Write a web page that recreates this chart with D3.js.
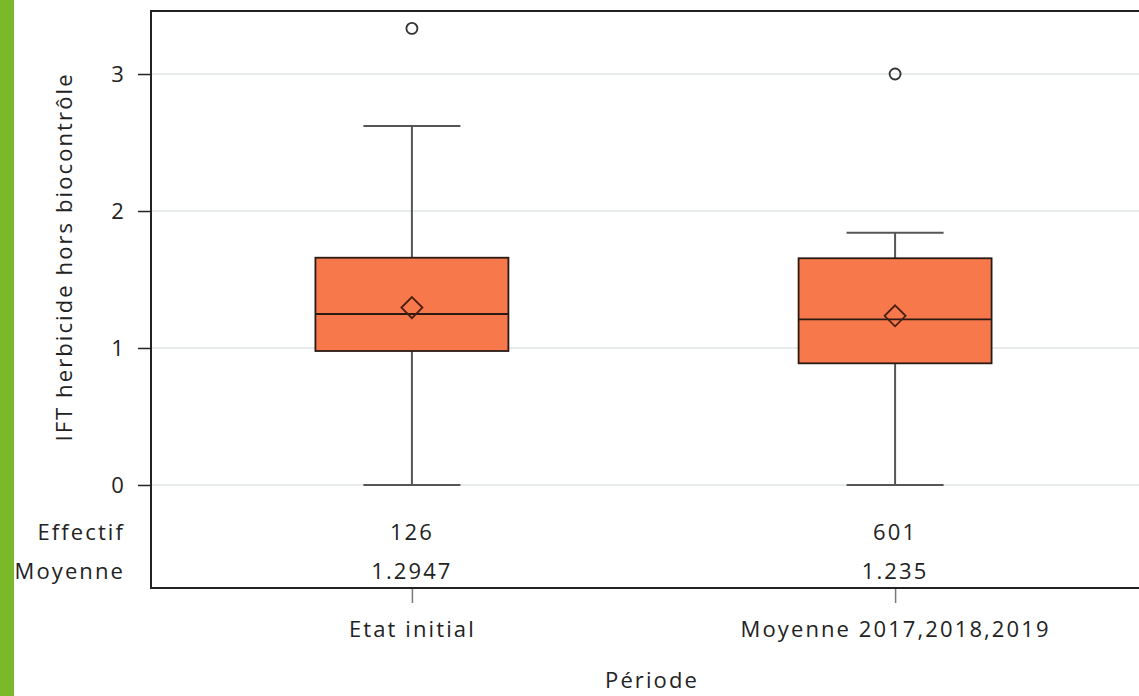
<!DOCTYPE html>
<html><head><meta charset="utf-8">
<script src="https://cdn.jsdelivr.net/npm/d3@7"></script>
<style>
html,body{margin:0;padding:0;background:#fff;}
svg text{font-family:"Open Sans",sans-serif;fill:#222;}
</style></head>
<body>
<svg id="c" width="1139" height="696"></svg>
<script>
const categories = ["Etat initial", "Moyenne 2017,2018,2019"];
const q1 = [0.978, 0.888];
const median = [1.248, 1.209];
const q3 = [1.659, 1.655];
const whiskerLow = [0, 0];
const whiskerHigh = [2.62, 1.842];
const means = [1.2947, 1.235];
const outliers = [[3.333], [3.0]];
const effectif = [126, 601];
const meanLabels = ["1.2947", "1.235"];
const yTicks = [0, 1, 2, 3];
const rowLabels = ["Effectif", "Moyenne"];

const svg = d3.select("#c");
const L = 151, R = 1156, T = 11, B = 588;

svg.append("rect").attr("x",0).attr("y",0).attr("width",14).attr("height",696).attr("fill","#7ab929");

const x = d3.scalePoint().domain(categories).range([L, R]).padding(0.54);
const y = d3.scaleLinear().domain([-0.752, 3.46]).range([B, T]);

// gridlines
svg.append("g").selectAll("line").data(yTicks).join("line")
  .attr("x1", L).attr("x2", R).attr("y1", d=>y(d)).attr("y2", d=>y(d))
  .attr("stroke", "#e2e6e6").attr("stroke-width", 1.5);

const fs = 22, ls = 2.1;

// y axis
const yAxis = svg.append("g").attr("transform", `translate(${L},0)`)
  .call(d3.axisLeft(y).tickValues(yTicks).tickSize(13).tickPadding(12).tickFormat(d3.format("d")));
yAxis.select(".domain").remove();
yAxis.selectAll(".tick line").attr("stroke","#222").attr("stroke-width",1.5);
yAxis.selectAll(".tick text").attr("font-size", fs).attr("font-family","Open Sans").attr("fill","#222").attr("letter-spacing", ls);

// x axis
const xAxis = svg.append("g").attr("transform", `translate(0,${B})`)
  .call(d3.axisBottom(x).tickSize(15).tickPadding(18));
xAxis.select(".domain").remove();
xAxis.selectAll(".tick line").attr("stroke","#777").attr("stroke-width",1.5);
xAxis.selectAll(".tick text").attr("font-size", fs).attr("font-family","Open Sans").attr("fill","#222").attr("letter-spacing", ls);

// boxes
const bw = 193, cw = 97;
const g = svg.append("g");
categories.forEach((c, i) => {
  const cx = x(c);
  g.append("line").attr("x1",cx).attr("x2",cx).attr("y1",y(whiskerLow[i])).attr("y2",y(q1[i])).attr("stroke","#555").attr("stroke-width",2);
  g.append("line").attr("x1",cx).attr("x2",cx).attr("y1",y(q3[i])).attr("y2",y(whiskerHigh[i])).attr("stroke","#555").attr("stroke-width",2);
  [whiskerLow[i], whiskerHigh[i]].forEach(v => {
    g.append("line").attr("x1",cx-cw/2).attr("x2",cx+cw/2).attr("y1",y(v)).attr("y2",y(v)).attr("stroke","#555").attr("stroke-width",2);
  });
  g.append("rect").attr("x",cx-bw/2).attr("width",bw).attr("y",y(q3[i])).attr("height",y(q1[i])-y(q3[i]))
    .attr("fill","#f6784b").attr("stroke","#2a1a14").attr("stroke-width",1.8);
  g.append("line").attr("x1",cx-bw/2).attr("x2",cx+bw/2).attr("y1",y(median[i])).attr("y2",y(median[i])).attr("stroke","#2a1a14").attr("stroke-width",1.8);
  const my = y(means[i]), s = 10.5;
  g.append("path").attr("d",`M${cx},${my-s}L${cx+s},${my}L${cx},${my+s}L${cx-s},${my}Z`)
    .attr("fill","none").attr("stroke","#4a1e0e").attr("stroke-width",1.8);
  outliers[i].forEach(v => {
    g.append("circle").attr("cx",cx).attr("cy",y(v)).attr("r",5.5).attr("fill","none").attr("stroke","#333").attr("stroke-width",1.8);
  });
  g.append("text").attr("x",cx).attr("y",531).attr("text-anchor","middle").attr("dominant-baseline","central")
    .attr("font-size",fs).attr("letter-spacing",ls).text(effectif[i]);
  g.append("text").attr("x",cx).attr("y",570).attr("text-anchor","middle").attr("dominant-baseline","central")
    .attr("font-size",fs).attr("letter-spacing",ls).text(meanLabels[i]);
});

// row labels
rowLabels.forEach((t, i) => {
  svg.append("text").attr("x",125).attr("y",[531,570][i]).attr("text-anchor","end").attr("dominant-baseline","central")
    .attr("font-size",fs).attr("letter-spacing",ls).text(t);
});

// frame
svg.append("rect").attr("x",L).attr("y",T).attr("width",R-L).attr("height",B-T)
  .attr("fill","none").attr("stroke","#222").attr("stroke-width",2);

// titles
svg.append("text").attr("transform",`translate(63,257) rotate(-90)`).attr("text-anchor","middle").attr("dominant-baseline","central")
  .attr("font-size",fs).attr("letter-spacing",ls).text("IFT herbicide hors biocontrôle");
svg.append("text").attr("x",652).attr("y",679).attr("text-anchor","middle").attr("dominant-baseline","central")
  .attr("font-size",fs).attr("letter-spacing",ls).text("Période");
</script>
</body></html>
